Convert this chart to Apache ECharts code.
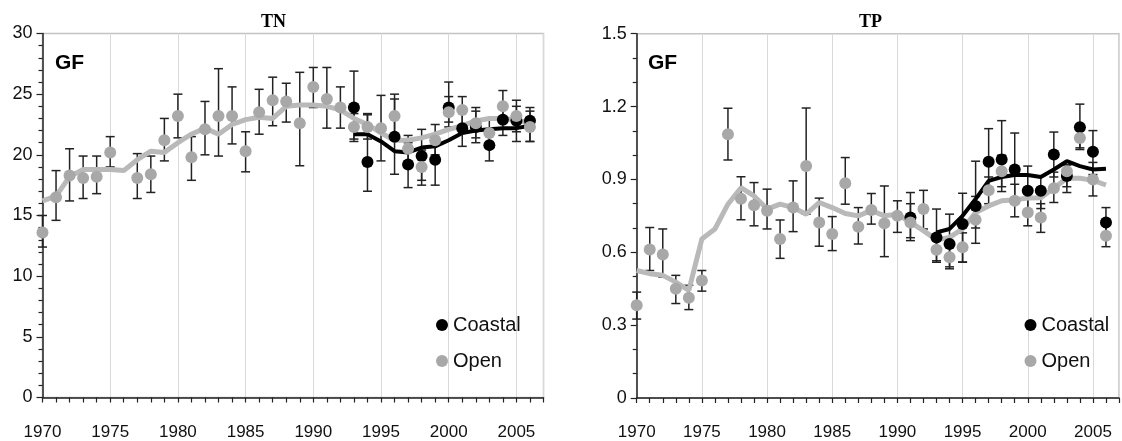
<!DOCTYPE html>
<html>
<head>
<meta charset="utf-8">
<script src="https://cdn.jsdelivr.net/npm/echarts@6/dist/echarts.min.js"></script>
<style>
  html, body { margin: 0; padding: 0; background: #fff; }
  #main { width: 1122px; height: 441px; }
</style>
</head>
<body>
<div id="main"></div>
<script>
// ---- TN (left panel) ----
const tnOpenYears = [1970, 1971, 1972, 1973, 1974, 1975, 1977, 1978, 1979, 1980, 1981, 1982, 1983, 1984, 1985, 1986, 1987, 1988, 1989, 1990, 1991, 1992, 1993, 1994, 1995, 1996, 1997, 1998, 1999, 2000, 2001, 2002, 2003, 2004, 2005, 2006];
const tnOpen   = [13.6, 16.5, 18.3, 18.1, 18.2, 20.2, 18.1, 18.4, 21.2, 23.2, 19.8, 22.1, 23.2, 23.2, 20.3, 23.5, 24.5, 24.4, 22.6, 25.6, 24.6, 23.9, 22.3, 22.3, 22.2, 23.2, 20.5, 19.0, 21.2, 23.5, 23.7, 22.6, 21.8, 24.0, 23.2, 22.3];
const tnOpenLo = [12.4, 14.6, 16.2, 16.4, 16.8, 19.0, 16.4, 16.9, 19.5, 21.4, 17.9, 20.0, 19.9, 20.9, 18.6, 21.7, 22.4, 22.7, 19.1, 23.9, 22.2, 22.2, 21.3, 21.3, 19.5, 21.5, 19.4, 17.9, 20.0, 22.3, 22.4, 21.4, 20.7, 22.8, 21.9, 21.1];
const tnOpenHi = [15.0, 18.7, 20.5, 19.9, 19.9, 21.5, 20.1, 19.9, 23.0, 25.0, 21.5, 24.4, 27.1, 25.6, 21.9, 25.4, 26.4, 25.9, 26.8, 27.2, 27.2, 25.6, 23.4, 23.4, 24.9, 25.0, 21.6, 20.4, 22.5, 24.8, 24.8, 23.9, 22.9, 25.3, 24.5, 23.6];

const tnCoastYears = [1993, 1994, 1996, 1997, 1998, 1999, 2000, 2001, 2002, 2003, 2004, 2005, 2006];
const tnCoast   = [23.9, 19.4, 21.5, 19.2, 19.9, 19.6, 23.9, 22.2, 22.3, 20.8, 22.9, 22.8, 22.8];
const tnCoastLo = [21.1, 17.0, 18.4, 17.3, 17.5, 17.5, 22.7, 20.7, 21.0, 19.5, 21.6, 21.1, 21.1];
const tnCoastHi = [26.9, 23.3, 24.6, 21.0, 22.1, 21.7, 26.0, 23.7, 23.6, 22.1, 24.2, 24.0, 23.9];

const trendYears = [1970, 1971, 1972, 1973, 1974, 1975, 1976, 1977, 1978, 1979, 1980, 1981, 1982, 1983, 1984, 1985, 1986, 1987, 1988, 1989, 1990, 1991, 1992, 1993, 1994, 1995, 1996, 1997, 1998, 1999, 2000, 2001, 2002, 2003, 2004, 2005, 2006];
const tnOpenTrend = [16.2, 16.6, 18.2, 18.8, 18.8, 18.8, 18.7, 19.6, 20.3, 20.2, 21.0, 21.7, 22.2, 21.7, 22.5, 22.9, 23.1, 23.0, 24.0, 24.1, 24.1, 24.0, 23.7, 23.0, 22.5, 21.8, 21.2, 21.2, 21.4, 21.7, 22.1, 22.4, 22.8, 23.0, 23.0, 22.9, 22.6];
const coastTrendYears = [1993, 1994, 1995, 1996, 1997, 1998, 1999, 2000, 2001, 2002, 2003, 2004, 2005, 2006];
const tnCoastTrend = [21.7, 21.7, 21.1, 20.3, 20.2, 20.6, 20.7, 21.2, 21.8, 22.0, 22.1, 22.2, 22.2, 22.4];

// ---- TP (right panel) ----
const tpOpenYears = tnOpenYears;
const tpOpen   = [0.382, 0.611, 0.591, 0.450, 0.413, 0.484, 1.086, 0.820, 0.794, 0.771, 0.655, 0.784, 0.955, 0.723, 0.675, 0.884, 0.705, 0.774, 0.719, 0.750, 0.723, 0.778, 0.610, 0.580, 0.621, 0.734, 0.855, 0.934, 0.812, 0.764, 0.743, 0.864, 0.934, 1.071, 0.900, 0.668];
const tpOpenLo = [0.325, 0.525, 0.498, 0.389, 0.364, 0.440, 0.980, 0.734, 0.709, 0.696, 0.575, 0.685, 0.757, 0.625, 0.607, 0.798, 0.634, 0.716, 0.582, 0.682, 0.648, 0.696, 0.565, 0.532, 0.560, 0.637, 0.800, 0.850, 0.746, 0.709, 0.682, 0.805, 0.846, 1.023, 0.832, 0.623];
const tpOpenHi = [0.436, 0.702, 0.696, 0.505, 0.464, 0.525, 1.193, 0.911, 0.887, 0.860, 0.733, 0.894, 1.194, 0.823, 0.747, 0.990, 0.784, 0.842, 0.873, 0.812, 0.800, 0.855, 0.660, 0.630, 0.680, 0.830, 0.910, 1.000, 0.880, 0.820, 0.800, 0.930, 0.960, 1.120, 0.970, 0.720];

const tpCoastYears = [1991, 1993, 1994, 1995, 1996, 1997, 1998, 1999, 2000, 2001, 2002, 2003, 2004, 2005, 2006];
const tpCoast   = [0.743, 0.661, 0.634, 0.716, 0.791, 0.973, 0.982, 0.941, 0.853, 0.853, 1.003, 0.914, 1.115, 1.014, 0.723];
const tpCoastLo = [0.660, 0.559, 0.540, 0.559, 0.700, 0.869, 0.870, 0.800, 0.760, 0.780, 0.910, 0.870, 1.030, 0.920, 0.660];
const tpCoastHi = [0.846, 0.778, 0.757, 0.843, 0.975, 1.109, 1.142, 1.091, 0.955, 0.914, 1.095, 0.960, 1.210, 1.101, 0.784];

const tpOpenTrend = [0.525, 0.512, 0.505, 0.477, 0.443, 0.655, 0.696, 0.798, 0.866, 0.832, 0.778, 0.798, 0.784, 0.757, 0.805, 0.784, 0.760, 0.750, 0.772, 0.750, 0.757, 0.723, 0.689, 0.651, 0.661, 0.696, 0.764, 0.791, 0.812, 0.816, 0.823, 0.825, 0.864, 0.905, 0.905, 0.896, 0.877];
const tpCoastTrend = [0.682, 0.696, 0.750, 0.819, 0.894, 0.910, 0.918, 0.918, 0.910, 0.941, 0.975, 0.955, 0.941, 0.944];

const panelTitles = ['TN', 'TP'];
const siteLabel = 'GF';

const OPEN = '#a8a8a8';
const OPEN_LINE = '#b9b9b9';
const COAST = '#000';
const FONT = 'Liberation Sans, Arial, sans-serif';

const zip = (...cols) => cols[0].map((_, i) => cols.map(c => c[i]));

function errRender(params, api) {
	const x = api.value(0);
	const top = api.coord([x, api.value(2)]);
	const bot = api.coord([x, api.value(1)]);
	const w = 4.5;
	const style = {stroke: '#222', lineWidth: 1.5};
	return {
		type: 'group',
		children: [
			{type: 'line', shape: {x1: top[0], y1: top[1], x2: bot[0], y2: bot[1]}, style},
			{type: 'line', shape: {x1: top[0] - w, y1: top[1], x2: top[0] + w, y2: top[1]}, style},
			{type: 'line', shape: {x1: bot[0] - w, y1: bot[1], x2: bot[0] + w, y2: bot[1]}, style}
		]
	};
}

function mainX(grid) {
	return {
		type: 'value', gridIndex: grid, min: 1970, max: 2007, interval: 1,
		axisLine: {show: true, lineStyle: {color: '#222', width: 1.5}},
		axisTick: {show: true, length: 5, lineStyle: {color: '#222', width: 1.2}},
		axisLabel: {
			fontSize: 17, color: '#111', fontFamily: FONT, margin: 26,
			formatter: v => (v % 5 === 0 && v < 2007 ? String(v) : '')
		},
		splitLine: {show: false}
	};
}
function gridX(grid) {
	return {
		type: 'value', gridIndex: grid, min: 1970, max: 2007, interval: 5, position: 'top',
		axisLine: {show: false}, axisTick: {show: false}, axisLabel: {show: false},
		splitLine: {show: true, lineStyle: {color: '#d9d9d9', width: 1}}
	};
}
function mainY(grid, max, interval, minorSplit) {
	return {
		type: 'value', gridIndex: grid, min: 0, max, interval,
		axisLine: {show: true, lineStyle: {color: '#222', width: 1.5}},
		axisTick: {show: true, length: 6, lineStyle: {color: '#222', width: 1.2}},
		minorTick: {show: true, splitNumber: minorSplit, length: 4, lineStyle: {color: '#222', width: 1.2}},
		axisLabel: {fontSize: 18, color: '#111', fontFamily: FONT, margin: 10},
		splitLine: {show: false}
	};
}

function panelSeries(xi, yi, d) {
	return [
		{type: 'custom', name: 'err-open', xAxisIndex: xi, yAxisIndex: yi, renderItem: errRender,
			encode: {x: 0, y: [1, 2]}, data: zip(d.oYears, d.oLo, d.oHi), z: 2, silent: true},
		{type: 'custom', name: 'err-coast', xAxisIndex: xi, yAxisIndex: yi, renderItem: errRender,
			encode: {x: 0, y: [1, 2]}, data: zip(d.cYears, d.cLo, d.cHi), z: 2, silent: true},
		{type: 'line', name: 'trend-open', xAxisIndex: xi, yAxisIndex: yi, data: zip(trendYears, d.oTrend),
			showSymbol: false, lineStyle: {color: OPEN_LINE, width: 5}, z: 3, silent: true},
		{type: 'line', name: 'trend-coast', xAxisIndex: xi, yAxisIndex: yi, data: zip(coastTrendYears, d.cTrend),
			showSymbol: false, lineStyle: {color: COAST, width: 4}, z: 3, silent: true},
		{type: 'scatter', name: 'Coastal', xAxisIndex: xi, yAxisIndex: yi, data: zip(d.cYears, d.c),
			symbolSize: 12, itemStyle: {color: COAST, opacity: 1}, z: 5},
		{type: 'scatter', name: 'Open', xAxisIndex: xi, yAxisIndex: yi, data: zip(d.oYears, d.o),
			symbolSize: 12, itemStyle: {color: OPEN, opacity: 1}, z: 6}
	];
}

function legendAt(left) {
	return {
		data: ['Coastal', 'Open'], orient: 'vertical', left, top: 308,
		icon: 'circle', itemWidth: 12, itemHeight: 12, itemGap: 12,
		selectedMode: false,
		textStyle: {fontSize: 20, color: '#111', fontFamily: FONT, lineHeight: 24}
	};
}

const chart = echarts.init(document.getElementById('main'), null, {renderer: 'canvas'});
chart.setOption({
	animation: false,
	backgroundColor: '#fff',
	grid: [
		{left: 42.5, top: 33.5, width: 501, height: 364, show: true, borderColor: '#c4c4c4', borderWidth: 1.5},
		{left: 636.7, top: 33.7, width: 495, height: 364.6, show: true, borderColor: '#c4c4c4', borderWidth: 1.5}
	],
	xAxis: [mainX(0), gridX(0), mainX(1), gridX(1)],
	yAxis: [mainY(0, 30, 5, 5), mainY(1, 1.5, 0.3, 3)],
	legend: [legendAt(431), legendAt(1019.5)],
	graphic: [
		{type: 'text', left: 261, top: 13, style: {text: panelTitles[0], font: 'bold 18px "Liberation Serif", serif', fill: '#000'}},
		{type: 'text', left: 859, top: 13, style: {text: panelTitles[1], font: 'bold 18px "Liberation Serif", serif', fill: '#000'}},
		{type: 'text', left: 55, top: 53, style: {text: siteLabel, font: 'bold 21px "Liberation Sans", Arial, sans-serif', fill: '#000'}},
		{type: 'text', left: 648, top: 53, style: {text: siteLabel, font: 'bold 21px "Liberation Sans", Arial, sans-serif', fill: '#000'}}
	],
	series: [
		...panelSeries(0, 0, {
			oYears: tnOpenYears, o: tnOpen, oLo: tnOpenLo, oHi: tnOpenHi, oTrend: tnOpenTrend,
			cYears: tnCoastYears, c: tnCoast, cLo: tnCoastLo, cHi: tnCoastHi, cTrend: tnCoastTrend
		}),
		...panelSeries(2, 1, {
			oYears: tpOpenYears, o: tpOpen, oLo: tpOpenLo, oHi: tpOpenHi, oTrend: tpOpenTrend,
			cYears: tpCoastYears, c: tpCoast, cLo: tpCoastLo, cHi: tpCoastHi, cTrend: tpCoastTrend
		})
	]
});
</script>
</body>
</html>
